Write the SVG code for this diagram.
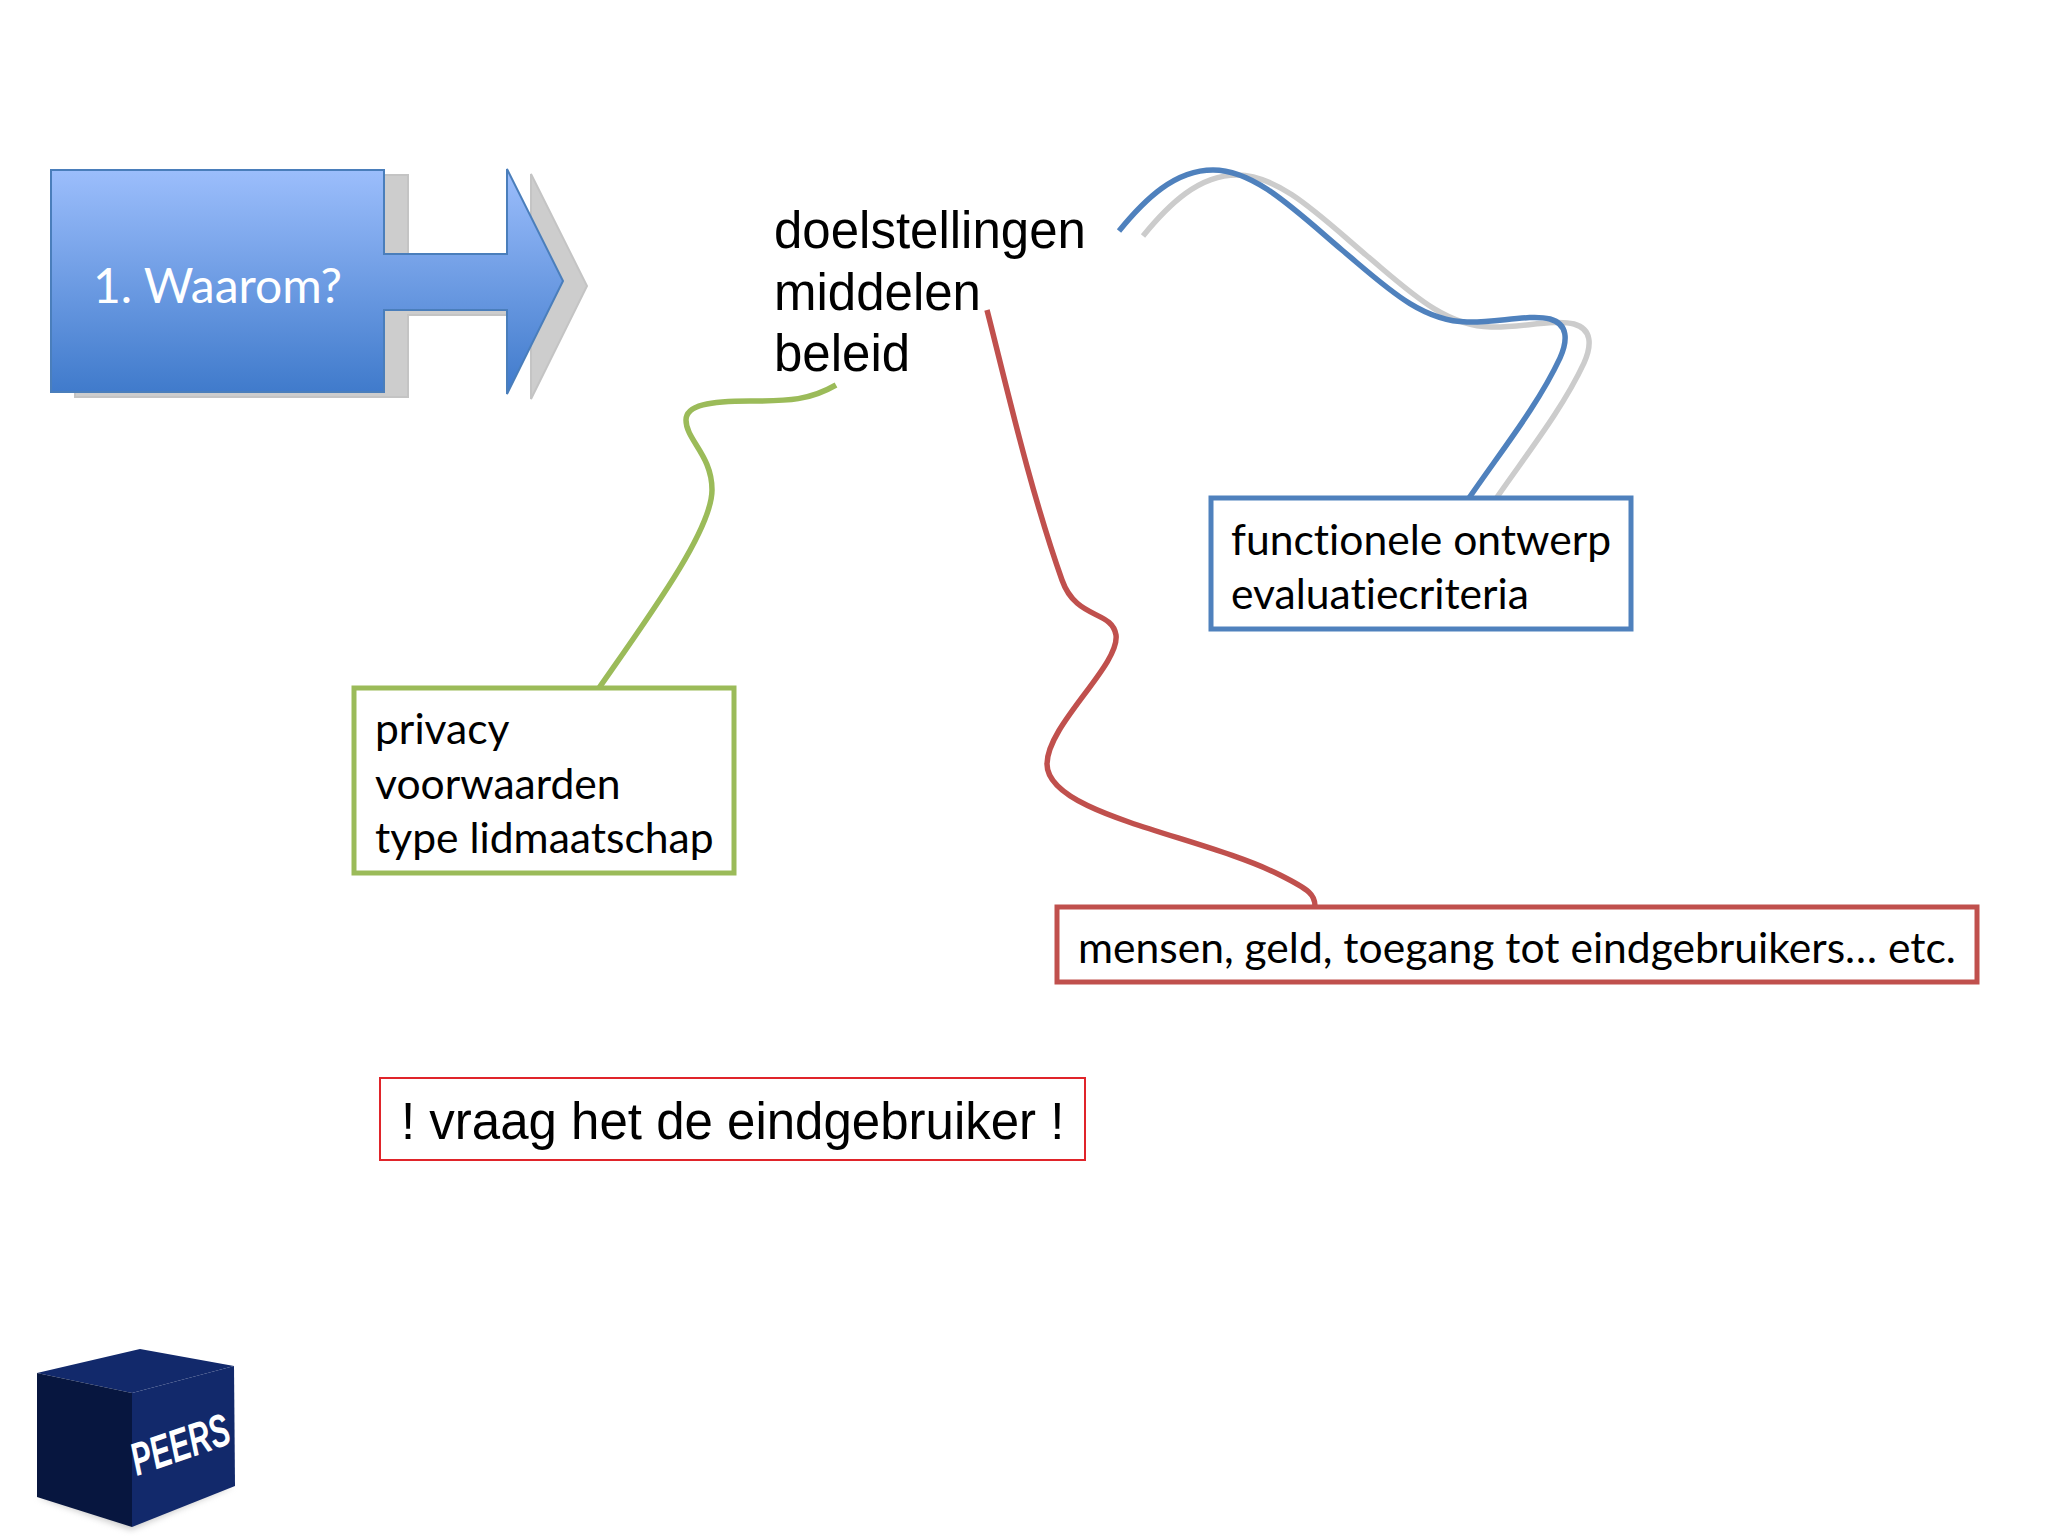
<svg xmlns="http://www.w3.org/2000/svg" width="2048" height="1536" viewBox="0 0 2048 1536">
<style>
.c{fill:none;stroke-width:5.5;stroke-linecap:butt}
.box{fill:#fff;stroke-width:5}
.t{font-family:"Lato","Carlito","Open Sans",sans-serif;font-size:42.6px;fill:#000;font-variant-ligatures:none}
.a{font-family:"Liberation Sans",Arial,sans-serif;fill:#000}
</style>
<defs>
<linearGradient id="g" x1="0" y1="0" x2="0" y2="1"><stop offset="0" stop-color="#9cbefc"/><stop offset="1" stop-color="#3f7acb"/></linearGradient>
<filter id="b" x="-20%" y="-20%" width="140%" height="140%"><feGaussianBlur stdDeviation="3"/></filter>
<path id="arrowShape" d="M51 170H384V254H507V169L563 281L507 394V310H384V392H51Z"/>
<path id="blueCurve" d="M1119 231C1145 199 1175 170 1213 170C1255 170 1295 210 1342 250C1385 286 1420 321 1467 322C1495 323 1530 314 1550 319C1568 324 1568 340 1560 358C1538 405 1502 450 1469 498"/>
</defs>
<rect width="2048" height="1536" fill="#fff"/>
<g id="arrow">
<use href="#arrowShape" transform="translate(24,5)" fill="#cdcdcd" stroke="#c4c4c4" stroke-width="2"/>
<use href="#arrowShape" fill="url(#g)" stroke="#4a7ebb" stroke-width="2"/>
<text x="93" y="303" font-family="Lato,Carlito,sans-serif" font-size="48" fill="#fff" style="font-variant-ligatures:none">1. Waarom?</text>
</g>
<g id="labels">
<text class="a" x="774" y="248" font-size="51">doelstellingen</text>
<text class="a" x="774" y="310" font-size="51">middelen</text>
<text class="a" x="774" y="371" font-size="51">beleid</text>
</g>
<g id="connectors">
<use href="#blueCurve" class="c" transform="translate(24,5)" stroke="#cccccc"/>
<use href="#blueCurve" class="c" stroke="#4f81bd"/>
<path class="c" stroke="#9bbb59" d="M836 385C810 400 790 401 750 401C710 401 686 405 686 420C686 440 712 455 712 490C712 530 650 615 599 688"/>
<path class="c" stroke="#c0504d" d="M987 310C1005 380 1030 490 1062 580C1076 620 1112 610 1116 635C1120 665 1047 725 1047 764C1047 815 1200 835 1280 875C1310 890 1315 895 1315 906"/>
</g>
<g id="functioneel">
<rect class="box" x="1211" y="498" width="420" height="131" stroke="#4f81bd"/>
<text class="t" x="1231" y="555">functionele ontwerp</text>
<text class="t" x="1231" y="609">evaluatiecriteria</text>
</g>
<g id="privacy">
<rect class="box" x="354" y="688" width="380" height="185" stroke="#9bbb59"/>
<text class="t" x="375" y="744">privacy</text>
<text class="t" x="375" y="799">voorwaarden</text>
<text class="t" x="375" y="853">type lidmaatschap</text>
</g>
<g id="mensen">
<rect class="box" x="1057" y="907" width="920" height="75" stroke="#c0504d"/>
<text class="t" x="1078" y="963">mensen, geld, toegang tot eindgebruikers… etc.</text>
</g>
<g id="vraag">
<rect x="380" y="1078" width="705" height="82" fill="#fff" stroke="#e0242a" stroke-width="2"/>
<text class="a" x="401" y="1139" font-size="51">! vraag het de eindgebruiker !</text>
</g>
<g id="logo">
<path d="M37 1497L131 1530L234 1486L130 1490Z" fill="#999" opacity=".5" filter="url(#b)"/>
<path d="M37 1373L140 1349L234 1366L132 1393Z" fill="#12296b"/>
<path d="M37 1373L132 1393V1527L37 1497Z" fill="#07163f"/>
<path d="M132 1393L234 1366L235 1486L132 1527Z" fill="#12296b"/>
<text transform="translate(137,1476) rotate(-19)" font-family="Liberation Sans,sans-serif" font-weight="700" font-style="italic" font-size="46" fill="#fff" textLength="102" lengthAdjust="spacingAndGlyphs">PEERS</text>
</g>
</svg>
